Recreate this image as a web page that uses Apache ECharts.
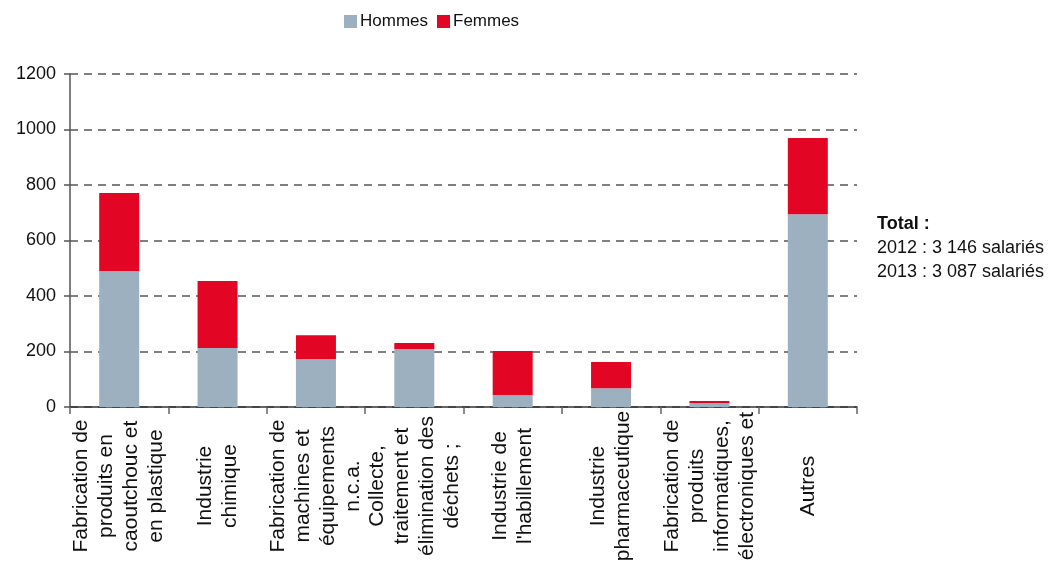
<!DOCTYPE html>
<html>
<head>
<meta charset="utf-8">
<script src="https://cdn.jsdelivr.net/npm/echarts@6/dist/echarts.min.js"></script>
<style>
  html, body { margin: 0; padding: 0; background: #fff; }
  #chart { width: 1052px; height: 568px; }
</style>
</head>
<body>
<div id="chart"></div>
<script>
// Categories (x axis), wrapped like the original labels
const categories = [
  "Fabrication de\nproduits en\ncaoutchouc et\nen plastique",
  "Industrie\nchimique",
  "Fabrication de\nmachines et\néquipements\nn.c.a.",
  "Collecte,\ntraitement et\nélimination des\ndéchets ;",
  "Industrie de\nl'habillement",
  "Industrie\npharmaceutique",
  "Fabrication de\nproduits\ninformatiques,\nélectroniques et",
  "Autres"
];

// Values
const hommes = [490, 213, 173, 209, 43, 68, 14, 695];
const femmes = [281, 241, 86, 22, 159, 94, 8, 274];

const yTicks = { min: 0, max: 1200, interval: 200 };

const chart = echarts.init(document.getElementById("chart"));
const font = "Liberation Sans, Arial, Helvetica, sans-serif";

const option = {
  animation: false,
  textStyle: { fontFamily: font },
  legend: {
    left: 339,
    top: 8,
    itemWidth: 13,
    itemHeight: 13,
    itemGap: 9,
    icon: "rect",
    textStyle: { fontSize: 17, color: "#111", fontFamily: font, padding: [0, 0, 0, -2] },
    data: ["Hommes", "Femmes"]
  },
  grid: {
    left: 70,
    right: 195,
    top: 74,
    bottom: 161
  },
  xAxis: {
    type: "category",
    data: categories,
    axisLine: { lineStyle: { color: "#333", width: 1.5 } },
    axisTick: { show: true, length: 7, lineStyle: { color: "#666", width: 1.5 } },
    axisLabel: {
      rotate: 90,
      align: "center",
      verticalAlign: "middle",
      margin: 79,
      fontSize: 21,
      lineHeight: 25,
      color: "#111",
      fontFamily: font,
      interval: 0
    }
  },
  yAxis: {
    type: "value",
    min: yTicks.min,
    max: yTicks.max,
    interval: yTicks.interval,
    axisLine: { show: true, lineStyle: { color: "#555", width: 1.5 } },
    axisTick: { show: true, length: 6, lineStyle: { color: "#555", width: 1.5 } },
    axisLabel: {
      fontSize: 18,
      color: "#111",
      margin: 14,
      fontFamily: font,
      formatter: (v) => String(v)
    },
    splitLine: {
      lineStyle: { type: [8, 6], color: "#555", width: 1.5 }
    }
  },
  series: [
    {
      name: "Hommes",
      type: "bar",
      stack: "total",
      barWidth: 40,
      itemStyle: { color: "#9DB0C0" },
      data: hommes
    },
    {
      name: "Femmes",
      type: "bar",
      stack: "total",
      barWidth: 40,
      itemStyle: { color: "#E30524" },
      data: femmes
    }
  ],
  graphic: [
    {
      type: "text",
      left: 877,
      top: 212,
      style: {
        text: "{b|Total :}\n2012 : 3 146 salariés\n2013 : 3 087 salariés",
        fontSize: 18,
        lineHeight: 24,
        fill: "#111",
        fontFamily: font,
        rich: {
          b: { fontWeight: "bold", fontSize: 18, lineHeight: 24, fill: "#111", fontFamily: font }
        }
      }
    }
  ]
};

chart.setOption(option);
</script>
</body>
</html>
